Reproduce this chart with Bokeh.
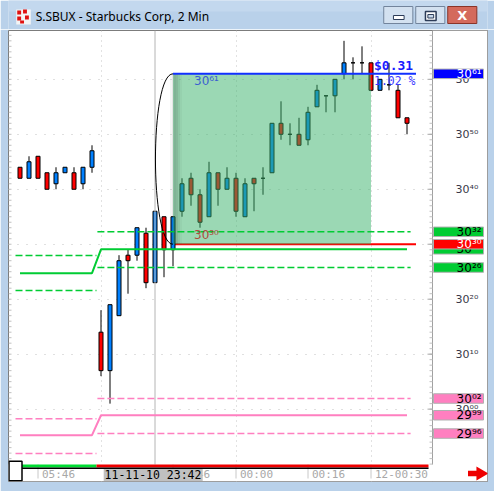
import math
from bokeh.plotting import figure
from bokeh.layouts import column
from bokeh.models import Range1d, FixedTicker, ColumnDataSource
from bokeh.core.properties import value
from bokeh.embed import file_html
from bokeh.resources import INLINE

# ---- 2-minute bars (prices in dollars) ----
opens  = [30.44, 30.42, 30.46, 30.43, 30.41, 30.43, 30.43, 30.41, 30.44,
          30.14, 30.07, 30.17, 30.28, 30.28, 30.32, 30.23, 30.35, 30.29,
          30.36, 30.42, 30.39, 30.35, 30.43, 30.40, 30.42, 30.35, 30.42,
          30.42, 30.43, 30.52, 30.50, 30.50, 30.49, 30.55, 30.57, 30.57,
          30.61, 30.63, 30.63, 30.63, 30.58, 30.59, 30.58, 30.53]
highs  = [30.44, 30.46, 30.46, 30.43, 30.44, 30.44, 30.44, 30.44, 30.48,
          30.18, 30.19, 30.28, 30.29, 30.33, 30.33, 30.36, 30.35, 30.35,
          30.42, 30.43, 30.40, 30.45, 30.43, 30.44, 30.43, 30.42, 30.42,
          30.44, 30.52, 30.56, 30.52, 30.53, 30.55, 30.59, 30.57, 30.60,
          30.67, 30.64, 30.66, 30.63, 30.60, 30.63, 30.59, 30.53]
lows   = [30.42, 30.42, 30.42, 30.40, 30.40, 30.43, 30.40, 30.40, 30.43,
          30.06, 30.01, 30.17, 30.21, 30.27, 30.22, 30.23, 30.24, 30.26,
          30.35, 30.37, 30.33, 30.35, 30.37, 30.40, 30.35, 30.35, 30.36,
          30.39, 30.43, 30.49, 30.48, 30.48, 30.48, 30.55, 30.54, 30.54,
          30.60, 30.60, 30.61, 30.58, 30.58, 30.58, 30.53, 30.50]
closes = [30.42, 30.45, 30.42, 30.40, 30.43, 30.44, 30.40, 30.44, 30.47,
          30.07, 30.19, 30.27, 30.27, 30.33, 30.23, 30.36, 30.29, 30.35,
          30.41, 30.39, 30.34, 30.43, 30.40, 30.42, 30.36, 30.41, 30.41,
          30.42, 30.52, 30.50, 30.50, 30.48, 30.54, 30.58, 30.57, 30.60,
          30.63, 30.63, 30.63, 30.58, 30.60, 30.59, 30.53, 30.52]

price_ticks = [30.0, 30.1, 30.2, 30.3, 30.4, 30.5, 30.6]
time_ticks = [2, 17, 24, 32, 39]
time_labels = ["05:46", "23:46", "00:00", "00:16", "12-00:30"]
grid_bars = [9, 24, 39]
cursor_bar = 15
cursor_stamp = "11-11-10 23:42"
session_break = 8.5

# measured move box
zone_bars = [17, 39]
zone_high = 30.61
zone_low = 30.30
level_end = 44

# channel levels: [previous session, current session]
green_mid = [30.2473, 30.2907]
green_upper = [30.2795, 30.3226]
green_lower = [30.2158, 30.2576]
pink_mid = [29.9526, 29.9889]
pink_upper = [29.9824, 30.0193]
pink_lower = [29.9193, 29.9556]

SUP = str.maketrans("0123456789", "⁰¹²³⁴⁵⁶⁷⁸⁹")


def quote(v):
    s = f"{v:.2f}"
    return s[:2] + s[3:].translate(SUP)


# ---- scales: the frame holds the chart, the price scale strip and the time strip ----
PX = 549.7                      # pixels per dollar
BAR = 9.0                       # pixels per bar
Y1 = 30.6888
Y0 = Y1 - 451 / PX              # bottom of time strip
CHART_LO = Y1 - 434 / PX        # bottom of price pane
X0 = -1.2778
X1 = X0 + 479 / BAR
CHART_R = X0 + 424 / BAR        # right edge of price pane


def dy(px):
    return px / PX


def dx(px):
    return px / BAR


FONT = value("DejaVu Sans")
MONO = value("DejaVu Sans Mono")
WIN = "#b9d1ea"

p = figure(width=494, height=462, x_range=Range1d(X0, X1), y_range=Range1d(Y0, Y1),
           output_backend="svg", toolbar_location=None,
           min_border_left=8, min_border_right=7, min_border_top=1, min_border_bottom=10,
           background_fill_color="white", border_fill_color=WIN,
           outline_line_color="#7c7c7c")
p.xaxis.visible = False
p.yaxis.visible = False

# dotted grid
p.xgrid.ticker = FixedTicker(ticks=grid_bars)
p.xgrid.grid_line_color = "#c4c4c4"
p.xgrid.grid_line_dash = "1 4"
p.ygrid.ticker = FixedTicker(ticks=price_ticks)
p.ygrid.grid_line_color = "#c0c0c0"
p.ygrid.grid_line_dash = "1 8"

# blank scale strip and time strip
p.quad(left=[CHART_R, X0], right=[X1, CHART_R], top=[Y1, CHART_LO], bottom=[Y0, Y0],
       fill_color="white", line_color=None)

# ---- price pane ----
n = len(opens)
src = ColumnDataSource(dict(
    x=list(range(n)), h=highs, l=lows,
    top=[max(o, c) for o, c in zip(opens, closes)],
    bottom=[min(o, c) for o, c in zip(opens, closes)],
    color=["#0080ff" if c > o else "#ff0000" if c < o else "#000000"
           for o, c in zip(opens, closes)],
))

zl, zr = zone_bars
p.segment(x0=[zl], y0=[zone_low], x1=[level_end], y1=[zone_low], line_color="#ff0000", line_width=2)

p.segment(x0="x", y0="h", x1="x", y1="l", source=src, line_color="black", line_width=1)
p.vbar(x="x", width=4 / 9, top="top", bottom="bottom", source=src,
       fill_color="color", line_color="black", line_width=1)

# crosshair
p.segment(x0=[cursor_bar], y0=[CHART_LO], x1=[cursor_bar], y1=[Y1], line_color="#b4b4b4", line_width=1)

# connector arc between the two box levels
p.bezier(x0=[zl], y0=[zone_high], x1=[zl], y1=[zone_low],
         cx0=[zl - 2.6], cy0=[zone_high], cx1=[zl - 2.6], cy1=[zone_low],
         line_color="black", line_width=1)

# shaded box with a soft left edge
p.quad(left=[zl], right=[zr], top=[zone_high], bottom=[zone_low],
       fill_color="#37b169", fill_alpha=0.5, line_color=None)
edge_px = [-3, -1, 1, 3, 5, 7]
edge_alpha = [0.04, 0.1, 0.17, 0.14, 0.08, 0.03]
p.quad(left=[zl + dx(e) for e in edge_px], right=[zl + dx(e + 2) for e in edge_px],
       top=[zone_high] * len(edge_px), bottom=[zone_low] * len(edge_px),
       fill_color="black", fill_alpha=edge_alpha, line_color=None)

# channel lines
first_last = int(session_break)
last = n - 1
for mid, upper, lower, col in [(green_mid, green_upper, green_lower, "#00cc33"),
                               (pink_mid, pink_upper, pink_lower, "#ff7fc0")]:
    p.line(x=[0, first_last, first_last + 1, last], y=[mid[0], mid[0], mid[1], mid[1]],
           line_color=col, line_width=2)
    for band in (upper, lower):
        p.line(x=[-0.5, session_break], y=[band[0], band[0]],
               line_color=col, line_width=1.5, line_dash="7 3")
        p.line(x=[session_break + 0.1, last + 0.4], y=[band[1], band[1]],
               line_color=col, line_width=1.5, line_dash="7 3")

p.segment(x0=[zl], y0=[zone_high], x1=[level_end], y1=[zone_high], line_color="#1030ff", line_width=2)

p.text(x=[zl], y=[zone_high], text=[quote(zone_high)], x_offset=21, y_offset=7,
       text_font=FONT, text_font_size="12px", text_color="#3a5fd0", text_baseline="middle")
p.text(x=[zl], y=[zone_low], text=[quote(zone_low)], x_offset=21, y_offset=-9,
       text_font=FONT, text_font_size="12px", text_color="#b04a3c", text_baseline="middle")
move = zone_high - zone_low
p.text(x=[zr], y=[zone_high], text=[f"${move:.2f}"], x_offset=3, y_offset=-8,
       text_font=MONO, text_font_size="13px", text_font_style="bold",
       text_color="#1a1aff", text_baseline="middle")
p.text(x=[zr], y=[zone_high], text=[f"{move / zone_low * 100:.2f} %"], x_offset=3, y_offset=7.5,
       text_font=MONO, text_font_size="11.5px", text_color="#3a3aff", text_baseline="middle")

# ---- price scale ----
minor = [round(29.90 + 0.01 * k, 2) for k in range(79)]
p.segment(x0=[CHART_R], y0=[CHART_LO], x1=[CHART_R], y1=[Y1], line_color="#a0a0a0", line_width=1)
p.ray(x=[CHART_R] * len(minor), y=minor, length=3, length_units="screen", angle=math.pi,
      line_color="#c0c0c0", line_width=1)
p.ray(x=[CHART_R] * len(price_ticks), y=price_ticks, length=5, length_units="screen",
      angle=math.pi, line_color="#a8a8a8", line_width=1)
p.ray(x=[X0] * len(minor), y=minor, length=3, length_units="screen", angle=0,
      line_color="#c0c0c0", line_width=1)
p.text(x=[CHART_R] * len(price_ticks), y=price_ticks, text=[quote(v) for v in price_ticks],
       x_offset=23, text_baseline="middle", text_font=FONT, text_font_size="11px",
       text_color="#383848")

tags = [(zone_high, "#0000ff", "white"),
        (green_upper[1], "#00cc33", "black"),
        (green_mid[1], "#00cc33", "black"),
        (zone_low, "#ff0000", "white"),
        (green_lower[1], "#00cc33", "black"),
        (pink_upper[1], "#ff7fc0", "black"),
        (pink_mid[1], "#ff7fc0", "black"),
        (pink_lower[1], "#ff7fc0", "black")]
for v, fill, tc in tags:
    p.rect(x=[CHART_R + dx(26)], y=[v], width=50, height=9.5, width_units="screen",
           height_units="screen", fill_color=fill, line_color="#b0b0b0", line_width=1)
    p.text(x=[CHART_R], y=[v], text=[quote(v)], x_offset=49, text_align="right",
           text_baseline="middle", text_font=FONT, text_font_size="12px", text_color=tc)

# ---- time strip ----
p.ray(x=time_ticks, y=[CHART_LO] * len(time_ticks), length=14, length_units="screen",
      angle=-math.pi / 2, line_color="#c8c8c8", line_width=1)
p.text(x=time_ticks, y=[CHART_LO] * len(time_ticks), text=time_labels, x_offset=4, y_offset=9.5,
       text_baseline="middle", text_font=MONO, text_font_size="11px", text_color="#a8a8a8")
p.quad(left=[cursor_bar - 5.7], right=[cursor_bar + 5.3], top=[CHART_LO - dy(3.5)],
       bottom=[CHART_LO - dy(16.5)], fill_color="#c0c0c0", line_color=None)
p.text(x=[cursor_bar], y=[CHART_LO], text=[cursor_stamp], x_offset=-2, y_offset=10,
       text_align="center", text_baseline="middle", text_font=MONO, text_font_size="11.5px",
       text_color="black")

# session strip along the pane bottom
strip_r = CHART_R - dx(4)
p.quad(left=[0, session_break], right=[session_break, strip_r],
       top=[CHART_LO, CHART_LO], bottom=[CHART_LO - dy(3)] * 2,
       fill_color=["#00dd33", "#ee0000"], line_color=None)
p.quad(left=[0], right=[strip_r], top=[CHART_LO - dy(3)], bottom=[CHART_LO - dy(4.5)],
       fill_color="black", line_color=None)
p.rect(x=[X0 + dx(7)], y=[CHART_LO - dy(6.5)], width=13, height=19.5, width_units="screen",
       height_units="screen", fill_color="white", line_color="black", line_width=1.5)
# scroll arrow
p.rect(x=[CHART_R + dx(40)], y=[CHART_LO - dy(9)], width=9, height=5.5, width_units="screen",
       height_units="screen", fill_color="#ee0000", line_color=None)
p.scatter(x=[CHART_R + dx(48)], y=[CHART_LO - dy(9)], marker="triangle", angle=-math.pi / 2,
          size=14, fill_color="#ee0000", line_color=None)

# ---- window title bar ----
tb = figure(width=494, height=29, x_range=Range1d(0, 494), y_range=Range1d(29, 0),
            x_axis_location=None, y_axis_location=None, min_border=0,
            output_backend="svg", toolbar_location=None,
            background_fill_color=WIN, border_fill_color=WIN, outline_line_color=None)
tb.grid.visible = False
tb.quad(left=[0], right=[494], top=[0], bottom=[11], fill_color="#c3d8ee", line_color=None)
tb.quad(left=[8], right=[23], top=[9], bottom=[24], fill_color="#f4f4f4", line_color=None)
tb.quad(left=[9, 15, 9, 17, 12], right=[13, 19, 13, 21, 16], top=[10, 9, 16, 15, 20],
        bottom=[14, 13, 20, 19, 23], fill_color="#e01010", line_color=None)
tb.text(x=[28], y=[15.5], text=["S.SBUX - Starbucks Corp, 2 Min"], text_baseline="middle",
        text_font=value("Noto Sans"), text_font_size="12px", text_color="black")
tb.quad(left=[387, 420], right=[417, 450], top=[6, 6], bottom=[23, 23],
        fill_color="#d3e1f0", line_color="#72849c", line_width=1)
tb.quad(left=[453], right=[483], top=[6], bottom=[23], fill_color="#d46a5c",
        line_color="#8a3428", line_width=1)
tb.quad(left=[397], right=[408], top=[15], bottom=[19], fill_color="white",
        line_color="#2c3c58", line_width=1)
tb.quad(left=[430], right=[441], top=[11], bottom=[20], fill_color="white",
        line_color="#2c3c58", line_width=1.5)
tb.quad(left=[432.5], right=[438.5], top=[14], bottom=[17.5], fill_color="#c8d8ea",
        line_color="#2c3c58", line_width=1)
tb.text(x=[468], y=[15], text=["X"], text_align="center", text_baseline="middle",
        text_font=FONT, text_font_size="13px", text_font_style="bold", text_color="white")

layout = column(tb, p, spacing=0)
open("out.html", "w", encoding="utf-8").write(file_html(layout, INLINE))
